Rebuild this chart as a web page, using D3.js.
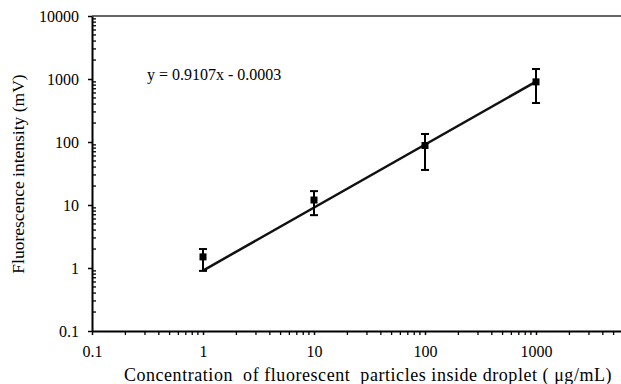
<!DOCTYPE html>
<html>
<head>
<meta charset="utf-8">
<script src="https://cdn.jsdelivr.net/npm/d3@7"></script>
<style>
  html, body { margin: 0; padding: 0; background: #fff; }
  svg { display: block; }
  svg text { font-family: "Liberation Serif", "Times New Roman", serif; }
</style>
</head>
<body>
<svg id="chart" width="621" height="384"></svg>
<script>
// valores
const concentrations = [1, 10, 100, 1000];
const intensities = [1.5, 12, 88, 900];
const errLow = [0.9, 6.9, 36, 416];
const errHigh = [2.0, 16.6, 134, 1440];
const fitX = [1, 1000];
const fitY = [0.9107, 910.7];
const xTicks = [0.1, 1, 10, 100, 1000];
const yTicks = [0.1, 1, 10, 100, 1000, 10000];
const equation = "y = 0.9107x - 0.0003";

const SERIF = "Liberation Serif";

function drawChart() {
  const svg = d3.select("#chart");
  svg.selectAll("*").remove();

  const x = d3.scaleLog().domain([0.1, 10000]).range([92, 647]);
  const y = d3.scaleLog().domain([0.1, 10000]).range([331, 16]);

  // ticks menores (2..9 em cada década)
  const minor = [];
  for (let e = -1; e < 4; e++) for (let m = 2; m <= 9; m++) minor.push(m * Math.pow(10, e));

  // borda superior
  svg.append("line").attr("x1", 92).attr("x2", 621).attr("y1", 16).attr("y2", 16)
    .attr("stroke", "#333").attr("stroke-width", 1.5);

  // eixo x
  const gx = svg.append("g").attr("transform", "translate(0,331)");
  gx.selectAll("line.minor").data(minor).join("line")
    .attr("class", "minor")
    .attr("x1", d => x(d)).attr("x2", d => x(d)).attr("y1", 0).attr("y2", 4)
    .attr("stroke", "#000").attr("stroke-width", 1.3);
  gx.call(d3.axisBottom(x).tickValues(xTicks).tickFormat(d3.format("~g")).tickSize(4).tickSizeOuter(0));
  gx.attr("font-family", SERIF);
  gx.select(".domain").attr("stroke-width", 2);
  gx.selectAll(".tick line").attr("stroke-width", 1.5);
  gx.selectAll(".tick text").attr("font-family", SERIF).attr("font-size", 16).attr("y", 12).attr("dy", "0.85em");

  // eixo y
  const gy = svg.append("g").attr("transform", "translate(92,0)");
  gy.selectAll("line.minor").data(minor).join("line")
    .attr("class", "minor")
    .attr("x1", 0).attr("x2", 4).attr("y1", d => y(d)).attr("y2", d => y(d))
    .attr("stroke", "#000").attr("stroke-width", 1.3);
  gy.call(d3.axisLeft(y).tickValues(yTicks).tickFormat(d3.format("~g")).tickSize(4).tickSizeOuter(0));
  gy.attr("font-family", SERIF);
  gy.select(".domain").attr("stroke-width", 2);
  gy.selectAll(".tick line").attr("stroke-width", 1.5);
  gy.selectAll(".tick text").attr("font-family", SERIF).attr("font-size", 16).attr("x", -13);

  // linha de ajuste
  const fit = fitX.map((v, i) => ({ x: v, y: fitY[i] }));
  svg.append("path").datum(fit)
    .attr("fill", "none").attr("stroke", "#111").attr("stroke-width", 2.5)
    .attr("d", d3.line().x(d => x(d.x)).y(d => y(d.y)));

  const pts = concentrations.map((c, i) => ({ c, v: intensities[i], lo: errLow[i], hi: errHigh[i] }));

  // barras de erro
  const eb = svg.append("g").attr("stroke", "#000").attr("stroke-width", 2);
  eb.selectAll("line.v").data(pts).join("line").attr("class", "v")
    .attr("x1", d => x(d.c)).attr("x2", d => x(d.c))
    .attr("y1", d => y(d.lo)).attr("y2", d => y(d.hi));
  eb.selectAll("line.hi").data(pts).join("line").attr("class", "hi")
    .attr("x1", d => x(d.c) - 4).attr("x2", d => x(d.c) + 4)
    .attr("y1", d => y(d.hi)).attr("y2", d => y(d.hi));
  eb.selectAll("line.lo").data(pts).join("line").attr("class", "lo")
    .attr("x1", d => x(d.c) - 4).attr("x2", d => x(d.c) + 4)
    .attr("y1", d => y(d.lo)).attr("y2", d => y(d.lo));

  // marcadores
  svg.append("g").selectAll("rect").data(pts).join("rect")
    .attr("x", d => x(d.c) - 3.5).attr("y", d => y(d.v) - 3.5)
    .attr("width", 7).attr("height", 7).attr("fill", "#000");

  // equação
  svg.append("text").attr("x", 147).attr("y", 80)
    .attr("font-family", SERIF).attr("font-size", 16).text(equation);

  // títulos dos eixos
  svg.append("text").attr("transform", "translate(24,174) rotate(-90)")
    .attr("text-anchor", "middle").attr("font-family", SERIF).attr("font-size", 17.5)
    .text("Fluorescence intensity (mV)");
  svg.append("text").attr("x", 368).attr("y", 381)
    .attr("text-anchor", "middle").attr("font-family", SERIF).attr("font-size", 18)
    .attr("letter-spacing", 0.55)
    .attr("style", "white-space: pre")
    .text("Concentration  of fluorescent  particles inside droplet ( \u03bcg/mL)");
}

window.addEventListener("DOMContentLoaded", drawChart);
</script>
</body>
</html>
